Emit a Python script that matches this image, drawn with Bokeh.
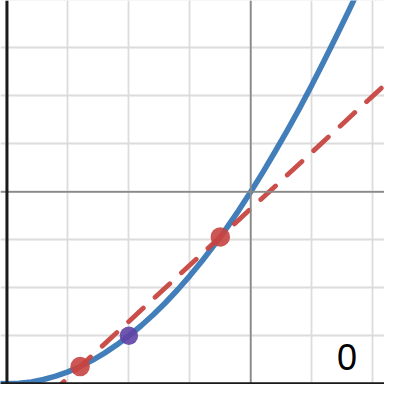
from bokeh.plotting import figure
from bokeh.models import Span, FixedTicker, Label
from bokeh.embed import file_html
from bokeh.resources import INLINE

# curve readings (x, y)
curve_x = [-4.2, -4.0, -3.8, -3.6, -3.4, -3.2, -3.0, -2.8, -2.6, -2.4, -2.2, -2.0,
           -1.8, -1.6, -1.4, -1.2, -1.0, -0.8, -0.6, -0.4, -0.2, 0.0, 0.2, 0.4,
           0.6, 0.8, 1.0, 1.2, 1.4, 1.6, 1.8]
curve_y = [-3.99, -4.00, -3.99, -3.96, -3.91, -3.84, -3.75, -3.64, -3.51, -3.36, -3.19, -3.00,
           -2.79, -2.56, -2.31, -2.04, -1.75, -1.44, -1.11, -0.76, -0.39, 0.00, 0.41, 0.84,
           1.28, 1.74, 2.22, 2.72, 3.23, 3.75, 4.29]

# secant points (red) and midpoint (purple)
red_x = [-2.8, -0.5]
red_y = [-3.64, -0.94]
purple_x = [-2.0]
purple_y = [-3.0]

grid_x = [-4, -3, -2, -1, 0, 1, 2]
grid_y = [-4, -3, -2, -1, 0, 1, 2, 3, 4]
x_min, x_max = -4.106, 2.194
y_min, y_max = -4.014, 3.986

p = figure(width=384, height=384, x_range=(x_min, x_max), y_range=(y_min, y_max),
           output_backend="svg", toolbar_location=None, min_border=0)
p.outline_line_color = None
p.xaxis.visible = False
p.yaxis.visible = False
p.xgrid.ticker = FixedTicker(ticks=grid_x)
p.ygrid.ticker = FixedTicker(ticks=grid_y)
p.xgrid.grid_line_color = "#dcdcdc"
p.ygrid.grid_line_color = "#dcdcdc"
p.xgrid.grid_line_width = 1.8
p.ygrid.grid_line_width = 1.8
p.background_fill_color = "white"

for dim in ("width", "height"):
    p.add_layout(Span(location=0, dimension=dim, line_color="#8a8a8a", line_width=1.8))
p.add_layout(Span(location=-4, dimension="height", line_color="#1a1a1a", line_width=3))
p.add_layout(Span(location=-4, dimension="width", line_color="#1a1a1a", line_width=3))

# secant line through the two red points, extended across the view
slope = (red_y[1] - red_y[0]) / (red_x[1] - red_x[0])
sx = [x_min - 0.5, x_max + 0.5]
sy = [red_y[0] + slope * (xx - red_x[0]) for xx in sx]

p.line(curve_x, curve_y, line_color="#2d70b3", line_width=5.6, line_alpha=0.9,
       line_join="round", line_cap="round")
p.line(sx, sy, line_color="#c74440", line_width=4.8, line_dash="20 16", line_cap="round",
       line_alpha=0.95)
p.scatter(red_x, red_y, size=19.5, fill_color="#c74440", line_color=None, fill_alpha=0.9)
p.scatter(purple_x, purple_y, size=18.5, fill_color="#6042a6", line_color=None, fill_alpha=0.9)

p.add_layout(Label(x=1.58, y=-3.44, text="0", text_font="Liberation Sans", text_font_size="36px",
                   text_color="#000000", text_align="center", text_baseline="middle"))

open("out.html", "w").write(file_html(p, INLINE))
